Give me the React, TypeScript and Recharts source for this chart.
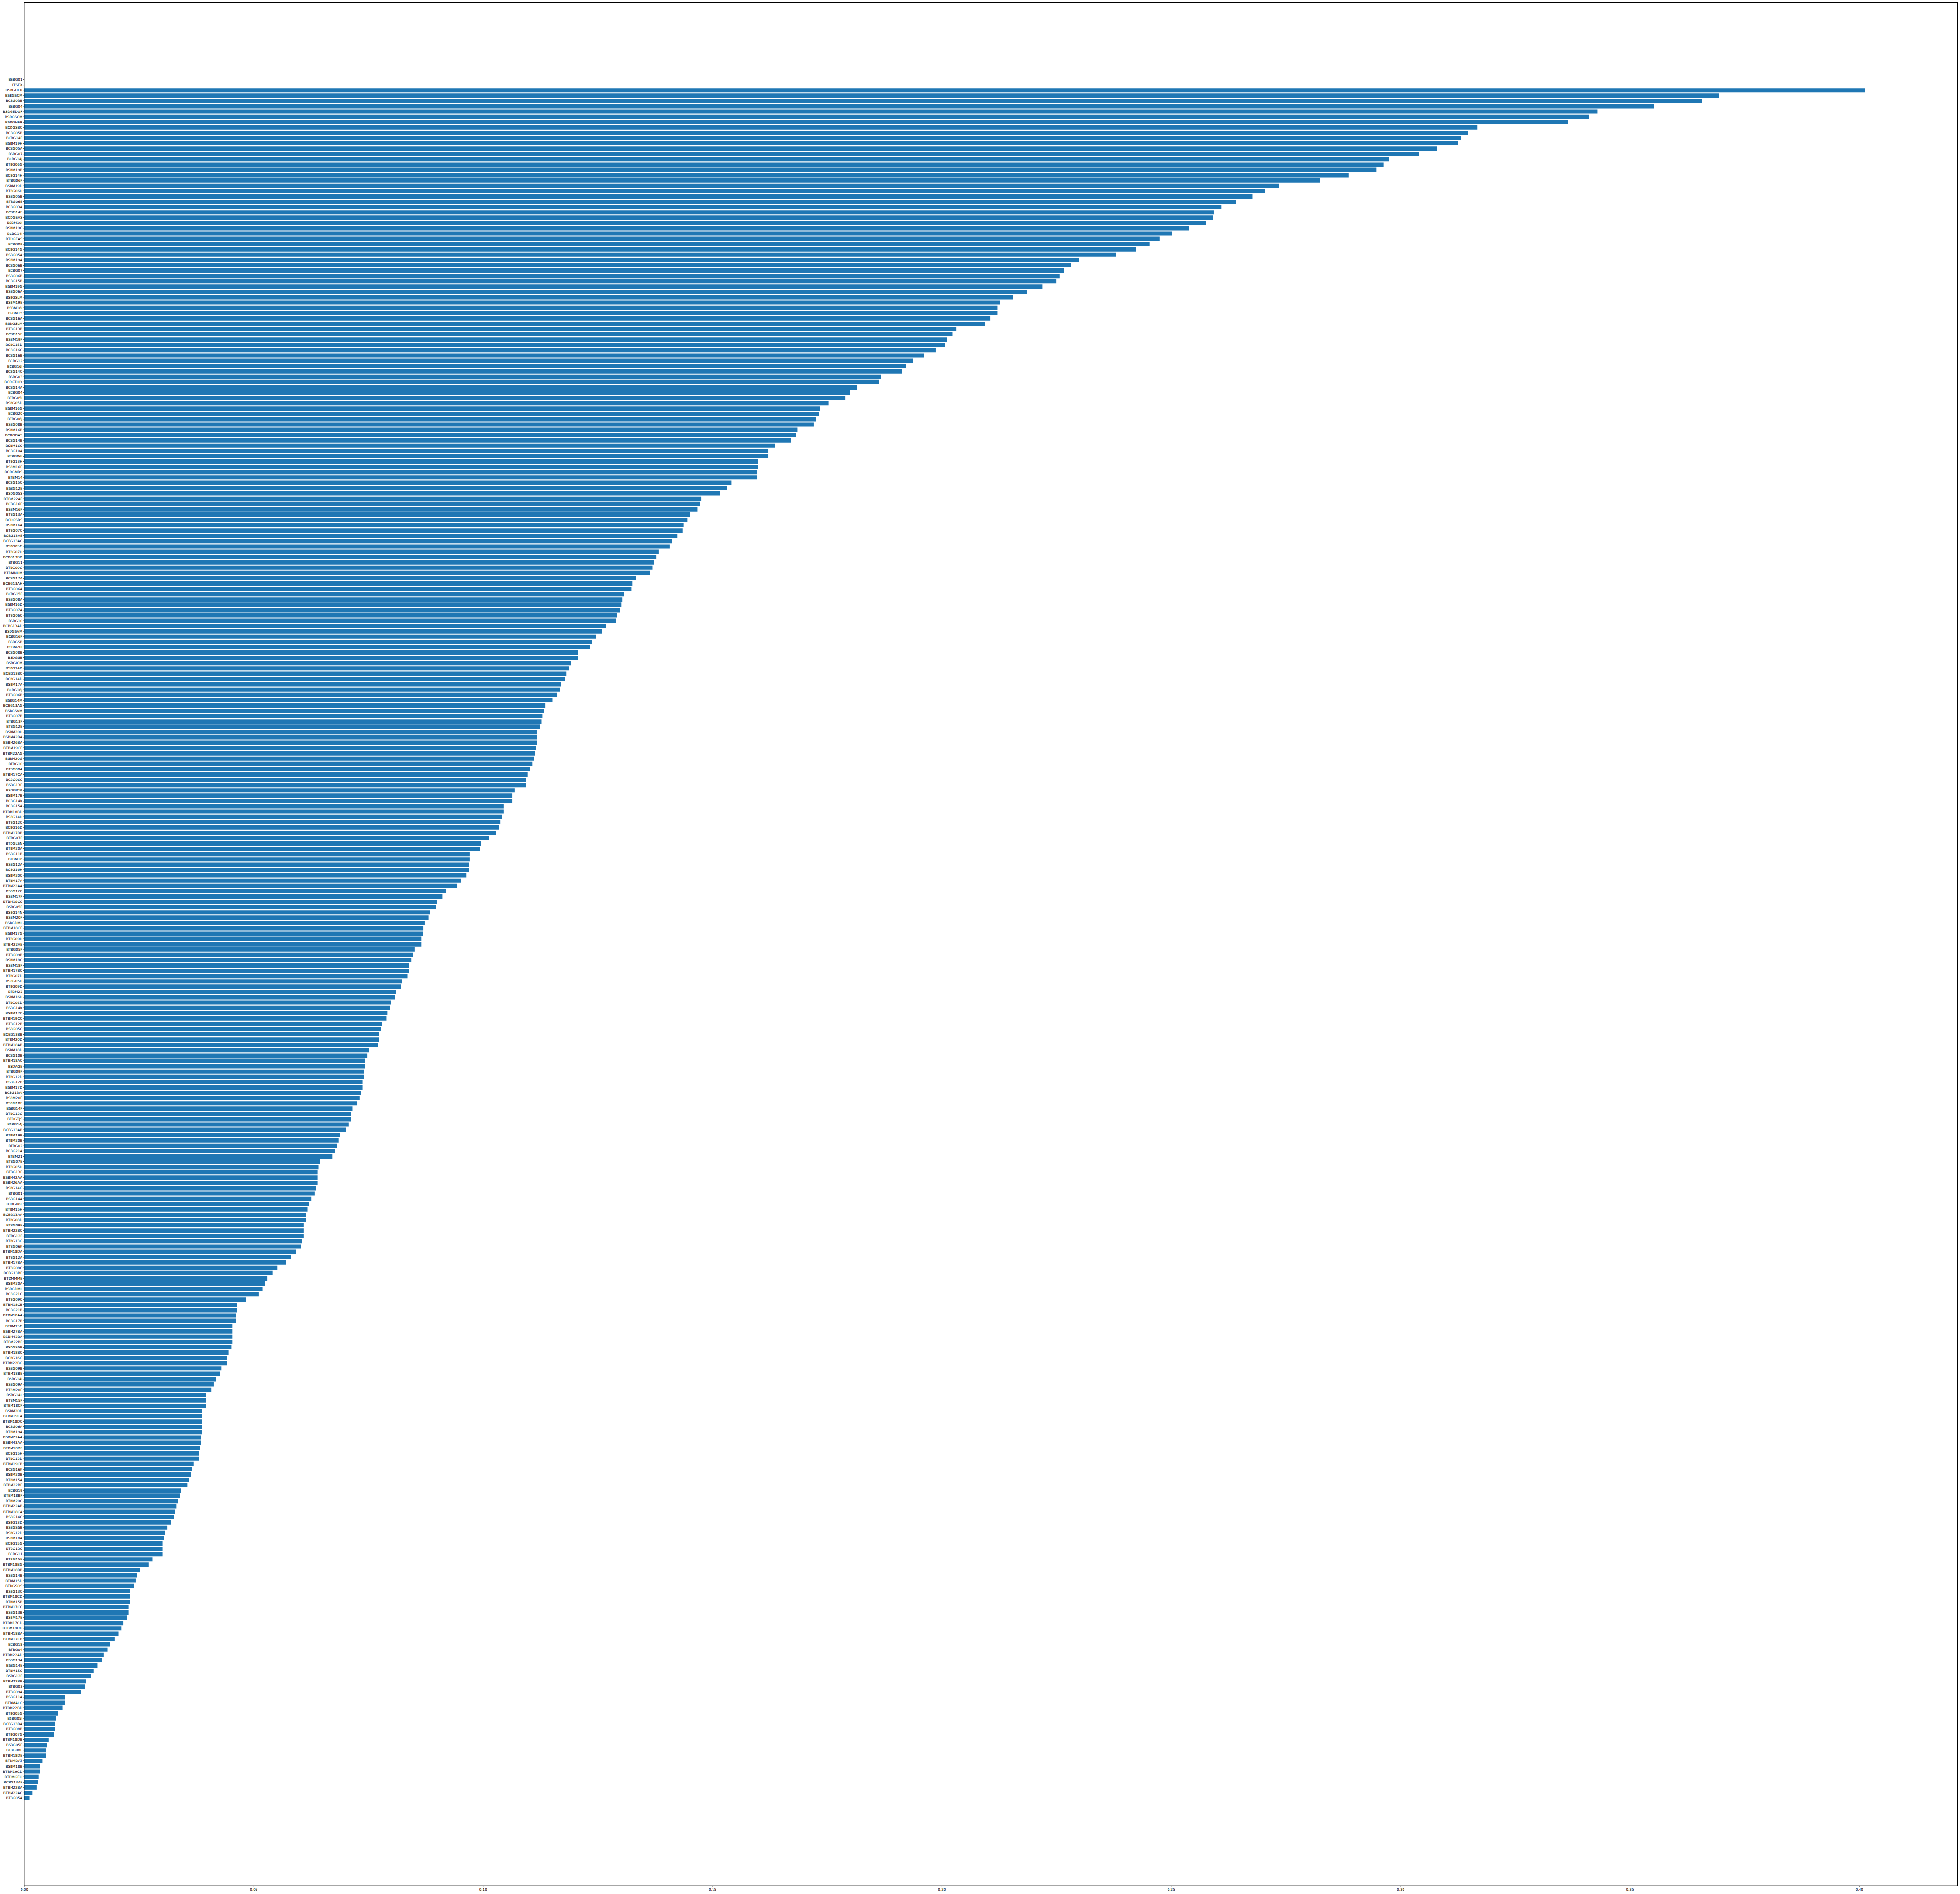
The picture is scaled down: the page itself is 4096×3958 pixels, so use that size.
import { BarChart, Bar, XAxis, YAxis } from 'recharts'

// category labels, top to bottom
const categories = [
  'BSBG01', 'ITSEX', 'BSBGHER', 'BSBGSCM', 'BCBG03B', 'BSBG04', 'BSDGEDUP', 'BSDGSCM', 'BSDGHER', 'BCDGSBC',
  'BCBG05B', 'BCBG14F', 'BSBM19H', 'BCBG05A', 'BSBG07', 'BCBG14J', 'BTBG06G', 'BSBM19B', 'BCBG14H', 'BTBG06F',
  'BSBM19D', 'BTBG06H', 'BSBG05B', 'BTBG06E', 'BCBG03A', 'BCBG14E', 'BCDGEAS', 'BSBM19I', 'BSBM19C', 'BCBG14I',
  'BTDGEAS', 'BCBG09', 'BCBG14G', 'BSBG05A', 'BSBM19A', 'BCBG06B', 'BCBG07', 'BSBG06B', 'BCBG15B', 'BSBM19G',
  'BSBG06A', 'BSBGSLM', 'BSBM19E', 'BSBM16I', 'BSBM15', 'BCBG16A', 'BSDGSLM', 'BTBG13B', 'BCBG15E', 'BSBM19F',
  'BCBG15D', 'BCBG16C', 'BCBG16B', 'BCBG12', 'BCBG16I', 'BCBG14C', 'BSBG03', 'BCDGTIHY', 'BCBG14A', 'BCBG04',
  'BTBG05I', 'BSBG05D', 'BSBM16G', 'BCBG20', 'BTBG06J', 'BSBG08B', 'BSBM16B', 'BCDGDAS', 'BCBG14B', 'BSBM16C',
  'BCBG10A', 'BTBG06I', 'BTBG13H', 'BSBM16E', 'BCDGMRS', 'BTBM14', 'BCBG15C', 'BSBG12E', 'BSDG05S', 'BTBM22AF',
  'BCBG16E', 'BSBM16F', 'BTBG13A', 'BCDGSRS', 'BSBM16A', 'BTBG07C', 'BCBG13AE', 'BCBG13AC', 'BSBG05G', 'BTBG07H',
  'BCBG13BD', 'BTBG11', 'BTBG09G', 'BTDMNUM', 'BCBG17A', 'BCBG13AH', 'BTBG06A', 'BCBG15F', 'BSBG08A', 'BSBM16D',
  'BTBG07A', 'BTBG06C', 'BSBG10', 'BCBG13AD', 'BSDGSVM', 'BCBG16F', 'BSBGSB', 'BSBM20I', 'BCBG08B', 'BSDGSB',
  'BSBGICM', 'BSBG14D', 'BCBG13BC', 'BCBG14D', 'BSBM17A', 'BCBG16J', 'BTBG06B', 'BSBG14M', 'BCBG13AG', 'BSBGSVM',
  'BTBG07B', 'BTBG13F', 'BTBG12E', 'BSBM20H', 'BSBM42BA', 'BSBM26BA', 'BTBM19CE', 'BTBM22AG', 'BSBM20G', 'BTBG10',
  'BTBG08A', 'BTBM17CA', 'BCBG06C', 'BSBG13E', 'BSDGICM', 'BSBM17B', 'BCBG14K', 'BCBG15A', 'BTBM18BD', 'BSBG14H',
  'BTBG12C', 'BCBG16D', 'BTBM17BB', 'BTBG07F', 'BTDGLSN', 'BTBM20A', 'BSBG11B', 'BTBM16', 'BSBG12A', 'BCBG16H',
  'BSBM20C', 'BTBM17A', 'BTBM22AA', 'BSBG12C', 'BSBM17F', 'BTBM18CC', 'BSBG05F', 'BSBG14N', 'BSBM20F', 'BSBGDML',
  'BTBM18CE', 'BSBM17G', 'BTBG09H', 'BTBM22AE', 'BTBG05F', 'BTBG09B', 'BSBM18C', 'BSBM18F', 'BTBM17BC', 'BTBG07D',
  'BSBG05H', 'BTBG09D', 'BTBM23', 'BSBM16H', 'BTBG06D', 'BSBG14K', 'BSBM17C', 'BTBM19CC', 'BTBG12B', 'BSBG05C',
  'BCBG13BB', 'BTBM20D', 'BTBM18AB', 'BSBM18D', 'BCBG10B', 'BTBM18AC', 'BSDAGE', 'BTBG09F', 'BTBG12D', 'BSBG12B',
  'BSBM17D', 'BCBG13AI', 'BSBM20E', 'BSBM18E', 'BSBG14F', 'BTBG12G', 'BTDGTJS', 'BSBG14J', 'BCBG13AB', 'BTBM19B',
  'BTBM20B', 'BTBG02', 'BCBG21A', 'BTBM21', 'BTBG07E', 'BTBG05H', 'BTBG13E', 'BSBM42AA', 'BSBM26AA', 'BSBG14G',
  'BTBG01', 'BSBG14A', 'BTBG06L', 'BTBM15H', 'BCBG13AA', 'BTBG08D', 'BTBG09E', 'BTBM22BC', 'BTBG12F', 'BTBG13G',
  'BTBG06K', 'BTBM18DA', 'BTBG12A', 'BTBM17BA', 'BTBG08C', 'BCBG13BE', 'BTDMMME', 'BSBM20A', 'BSDGDML', 'BCBG21C',
  'BTBG09C', 'BTBM18CB', 'BCBG21B', 'BTBM18AA', 'BCBG17B', 'BTBM15G', 'BSBM27BA', 'BSBM43BA', 'BTBM22BF', 'BSDGSSB',
  'BTBM18BC', 'BCBG16G', 'BTBM22BG', 'BSBG09B', 'BTBM18BE', 'BSBG14I', 'BSBG09A', 'BTBM20E', 'BSBG14L', 'BTBM15F',
  'BTBM18CF', 'BSBM20D', 'BTBM19CA', 'BTBM18DC', 'BCBG06A', 'BTBM19A', 'BSBM27AA', 'BSBM43AA', 'BTBM18DF', 'BCBG15H',
  'BTBG13D', 'BTBM19CB', 'BCBG16K', 'BSBM20B', 'BTBM15A', 'BTBM22BE', 'BCBG19', 'BTBM18BF', 'BTBM20C', 'BTBM22AB',
  'BTBM18CA', 'BSBG14C', 'BSBG13D', 'BSBGSSB', 'BSBG12D', 'BSBM18A', 'BCBG15G', 'BTBG13C', 'BCBG11', 'BTBM15E',
  'BTBM18BG', 'BTBM18BB', 'BSBG14B', 'BTBM15D', 'BTDGSOS', 'BSBG13C', 'BTBM18CD', 'BTBM15B', 'BTBM17CC', 'BSBG13B',
  'BSBM17E', 'BTBM17CD', 'BTBM18DD', 'BTBM18BA', 'BTBM17CB', 'BCBG18', 'BTBG04', 'BTBM22AD', 'BSBG13A', 'BSBG14E',
  'BTBM15C', 'BSBG12F', 'BTBM22BB', 'BTBG03', 'BTBG09A', 'BSBG11A', 'BTDMALG', 'BTBM22BD', 'BTBG05G', 'BSBG05I',
  'BCBG13BA', 'BTBG08B', 'BTBG07G', 'BTBM18DB', 'BSBG05E', 'BTBG08E', 'BTBM18DE', 'BTDMDAT', 'BSBM18B', 'BTBM19CD',
  'BTDMGEO', 'BCBG13AF', 'BTBM22BA', 'BTBM22AC', 'BTBG05A',
]

const values = [
  null, null, 0.4012, 0.3694, 0.3656, 0.3552, 0.3429, 0.341, 0.3364, 0.3167,
  0.3146, 0.3132, 0.3124, 0.308, 0.304, 0.2974, 0.2963, 0.2947, 0.2887, 0.2824,
  0.2734, 0.2704, 0.2677, 0.2642, 0.2609, 0.2592, 0.259, 0.2576, 0.2538, 0.2502,
  0.2475, 0.2453, 0.2423, 0.238, 0.2298, 0.2282, 0.2266, 0.2257, 0.2249, 0.2219,
  0.2186, 0.2156, 0.2126, 0.2121, 0.2121, 0.2105, 0.2094, 0.2031, 0.2023, 0.2012,
  0.2006, 0.1987, 0.196, 0.1936, 0.1922, 0.1914, 0.1868, 0.1862, 0.1816, 0.18,
  0.1789, 0.1753, 0.1734, 0.1732, 0.1726, 0.1721, 0.1685, 0.1682, 0.1671, 0.1636,
  0.1622, 0.1622, 0.16, 0.16, 0.1598, 0.1598, 0.1541, 0.1532, 0.1516, 0.1475,
  0.1472, 0.1467, 0.1451, 0.1445, 0.1437, 0.1435, 0.1423, 0.1412, 0.1407, 0.1383,
  0.1377, 0.1372, 0.1369, 0.1364, 0.1334, 0.1325, 0.1323, 0.1306, 0.1303, 0.1301,
  0.1298, 0.1292, 0.129, 0.1268, 0.126, 0.1246, 0.1238, 0.1233, 0.1206, 0.1206,
  0.1192, 0.1187, 0.1181, 0.1178, 0.117, 0.1168, 0.1162, 0.1151, 0.1135, 0.1132,
  0.1129, 0.1127, 0.1124, 0.1118, 0.1118, 0.1118, 0.1116, 0.1113, 0.111, 0.1107,
  0.1102, 0.1097, 0.1094, 0.1094, 0.1069, 0.1064, 0.1064, 0.1045, 0.1045, 0.1042,
  0.1037, 0.1034, 0.1028, 0.1012, 0.0996, 0.0993, 0.0971, 0.0971, 0.0969, 0.0969,
  0.0963, 0.0952, 0.0944, 0.092, 0.0911, 0.09, 0.0898, 0.0884, 0.0881, 0.0873,
  0.087, 0.0868, 0.0865, 0.0865, 0.0851, 0.0848, 0.0843, 0.0838, 0.0838, 0.0835,
  0.0824, 0.0821, 0.081, 0.0808, 0.08, 0.0797, 0.0791, 0.0789, 0.078, 0.0778,
  0.0772, 0.0772, 0.077, 0.0751, 0.0748, 0.0742, 0.0742, 0.074, 0.074, 0.0737,
  0.0737, 0.0734, 0.0731, 0.0726, 0.0715, 0.0712, 0.0712, 0.0707, 0.0701, 0.0688,
  0.0685, 0.0682, 0.0677, 0.0671, 0.0644, 0.0641, 0.0639, 0.0639, 0.0639, 0.0636,
  0.0633, 0.0625, 0.062, 0.0617, 0.0614, 0.0614, 0.0609, 0.0609, 0.0609, 0.0606,
  0.0603, 0.0592, 0.0581, 0.057, 0.0551, 0.0541, 0.053, 0.0524, 0.0519, 0.0511,
  0.0483, 0.0464, 0.0464, 0.0462, 0.0462, 0.0453, 0.0453, 0.0453, 0.0453, 0.0451,
  0.0445, 0.0442, 0.0442, 0.0429, 0.0426, 0.0418, 0.0413, 0.0407, 0.0396, 0.0396,
  0.0396, 0.0388, 0.0388, 0.0388, 0.0388, 0.0388, 0.0385, 0.0385, 0.0382, 0.038,
  0.038, 0.0369, 0.0366, 0.0363, 0.0358, 0.0355, 0.0342, 0.0339, 0.0334, 0.0331,
  0.0328, 0.0326, 0.032, 0.0312, 0.0306, 0.0304, 0.0301, 0.0301, 0.0301, 0.0279,
  0.0271, 0.0252, 0.0246, 0.0243, 0.0238, 0.023, 0.023, 0.023, 0.0227, 0.0227,
  0.0224, 0.0216, 0.0211, 0.0205, 0.0197, 0.0186, 0.0181, 0.0173, 0.017, 0.0159,
  0.0151, 0.0145, 0.0134, 0.0132, 0.0124, 0.0088, 0.0088, 0.0083, 0.0074, 0.0069,
  0.0066, 0.0066, 0.0064, 0.0053, 0.005, 0.0047, 0.0047, 0.0039, 0.0034, 0.0034,
  0.0031, 0.003, 0.0027, 0.0017, 0.0011,
]

const xTicks = [0, 0.05, 0.1, 0.15, 0.2, 0.25, 0.3, 0.35, 0.4]

const data = categories.map((name, i) => ({ name, value: values[i] }))

const W = 4096
const H = 3958
// plot box, in page pixels
const LEFT = 51
const TOP = 5
const RIGHT = 5
const BOTTOM = 17
const font = 'DejaVu Sans'
const tickStyle = { fontSize: 7.24, fill: '#000', fontFamily: font }

export default function App() {
  return (
    <div style={{ width: W, height: H, background: '#fff', position: 'relative' }}>
      <style>{'body{margin:0}'}</style>
      <BarChart
        width={W}
        height={H}
        data={data}
        layout="vertical"
        barCategoryGap="10%"
        margin={{ top: TOP, right: RIGHT, left: 0, bottom: 0 }}
      >
        <XAxis
          type="number"
          domain={[0, 0.4214]}
          ticks={xTicks}
          allowDataOverflow
          tickFormatter={(v: number) => v.toFixed(2)}
          height={BOTTOM}
          tick={tickStyle}
          tickSize={2.5}
          tickMargin={2}
          axisLine={{ stroke: '#000', strokeWidth: 0.7 }}
          tickLine={{ stroke: '#000', strokeWidth: 0.7 }}
        />
        <YAxis
          type="category"
          dataKey="name"
          width={LEFT}
          interval={0}
          padding={{ top: 156, bottom: 178 }}
          tick={tickStyle}
          tickSize={2.5}
          tickMargin={2}
          axisLine={{ stroke: '#000', strokeWidth: 0.7 }}
          tickLine={{ stroke: '#000', strokeWidth: 0.7 }}
        />
        <Bar dataKey="value" fill="#1f77b4" isAnimationActive={false} />
      </BarChart>
      {/* top and right spines of the frame */}
      <div
        style={{
          position: 'absolute',
          left: LEFT,
          top: TOP,
          width: W - LEFT - RIGHT,
          height: H - TOP - BOTTOM,
          boxSizing: 'border-box',
          borderTop: '0.7px solid #000',
          borderRight: '0.7px solid #000',
          pointerEvents: 'none',
        }}
      />
    </div>
  )
}
